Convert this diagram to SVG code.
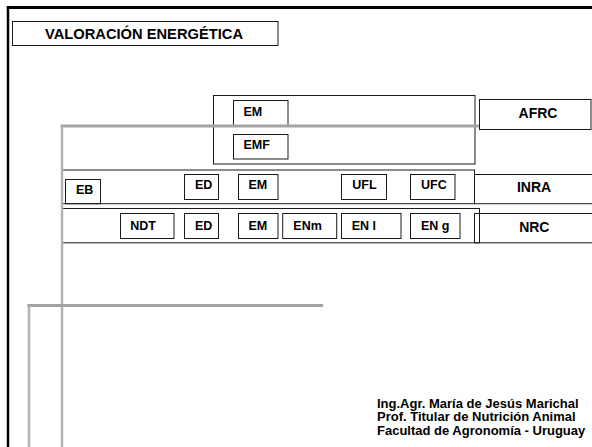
<svg xmlns="http://www.w3.org/2000/svg" width="592" height="447" viewBox="0 0 592 447">
<style>
  .box{fill:none;stroke:#1a1a1a;stroke-width:1}
  .lbl{font-family:"Liberation Sans",Arial,sans-serif;font-weight:bold;font-size:12.5px;fill:#000}
  .big{font-family:"Liberation Sans",Arial,sans-serif;font-weight:bold;font-size:14px;fill:#000;text-anchor:middle}
  .foot{font-family:"Liberation Sans",Arial,sans-serif;font-weight:bold;font-size:13px;fill:#000}
  .gh{stroke:#a3a3a3;stroke-width:3;fill:none}
  .gv{stroke:#b3b3b3;stroke-width:2.5;fill:none}
</style>
<rect width="592" height="447" fill="#fff"/>
<g id="frame">
  <line x1="6.8" y1="7.5" x2="592" y2="7.5" stroke="#000" stroke-width="3"/>
  <line x1="8" y1="7" x2="8" y2="447" stroke="#000" stroke-width="2.5"/>
</g>
<g id="title">
  <rect class="box" x="12.5" y="21.5" width="265.5" height="24"/>
  <text class="foot" x="45" y="38.5" style="font-size:14.7px">VALORACIÓN ENERGÉTICA</text>
</g>
<g id="afrc-group">
  <rect class="box" x="213.5" y="95.5" width="261.5" height="68.5"/>
  <g id="afrc-em"><rect class="box" x="233.5" y="100.5" width="54.5" height="25"/><text class="lbl" x="243.5" y="116.3">EM</text></g>
  <g id="afrc-emf"><rect class="box" x="233.5" y="134.5" width="54.5" height="24.5"/><text class="lbl" x="243.5" y="149.3">EMF</text></g>
</g>
<g id="afrc"><rect class="box" x="479.5" y="99.5" width="111.5" height="30"/><text class="big" x="538" y="118.3">AFRC</text></g>
<g id="inra-row">
  <rect class="box" x="61.5" y="170" width="413" height="33.7"/>
  <g id="inra-eb"><rect class="box" x="65.5" y="179.5" width="35" height="24.2"/><text class="lbl" x="76" y="194.3">EB</text></g>
  <g id="inra-ed"><rect class="box" x="184.5" y="174.5" width="34" height="25"/><text class="lbl" x="195" y="189.3">ED</text></g>
  <g id="inra-em"><rect class="box" x="238.5" y="174.5" width="39.5" height="25"/><text class="lbl" x="248.5" y="189.3">EM</text></g>
  <g id="inra-ufl"><rect class="box" x="341.5" y="174.5" width="45" height="25"/><text class="lbl" x="352.3" y="189.3">UFL</text></g>
  <g id="inra-ufc"><rect class="box" x="410.5" y="174.5" width="44.5" height="25"/><text class="lbl" x="421" y="189.3">UFC</text></g>
</g>
<g id="inra"><rect class="box" x="474.5" y="174.5" width="130" height="29.2"/><text class="big" x="534" y="192.3">INRA</text></g>
<g id="nrc-row">
  <rect class="box" x="61.5" y="208.5" width="418" height="34.3"/>
  <g id="nrc-ndt"><rect class="box" x="120.5" y="213.5" width="53.5" height="25"/><text class="lbl" x="130.3" y="230">NDT</text></g>
  <g id="nrc-ed"><rect class="box" x="184.5" y="213.5" width="34" height="25"/><text class="lbl" x="195" y="230">ED</text></g>
  <g id="nrc-em"><rect class="box" x="238.5" y="213.5" width="39.5" height="25"/><text class="lbl" x="248.5" y="230">EM</text></g>
  <g id="nrc-enm"><rect class="box" x="282.7" y="213.5" width="54" height="25"/><text class="lbl" x="293.3" y="230">ENm</text></g>
  <g id="nrc-enl"><rect class="box" x="341.5" y="213.5" width="59.5" height="25"/><text class="lbl" x="351.7" y="230">EN l</text></g>
  <g id="nrc-eng"><rect class="box" x="410.5" y="213.5" width="49.5" height="25"/><text class="lbl" x="421" y="230">EN g</text></g>
</g>
<g id="nrc"><rect class="box" x="474.5" y="213.5" width="130" height="29.3"/><text class="big" x="534.3" y="232.3">NRC</text></g>
<g id="connectors">
  <line class="gh" x1="60.5" y1="126" x2="479" y2="126"/>
  <line class="gv" x1="62" y1="126" x2="62" y2="447"/>
  <line class="gh" x1="27.3" y1="305.5" x2="323" y2="305.5"/>
  <line class="gv" x1="29" y1="305.5" x2="29" y2="447"/>
</g>
<g id="footer">
  <text class="foot" x="377" y="407.7">Ing.Agr. María de Jesús Marichal</text>
  <text class="foot" x="377" y="421.3">Prof. Titular de Nutrición Animal</text>
  <text class="foot" x="377" y="435">Facultad de Agronomía - Uruguay</text>
</g>
</svg>
